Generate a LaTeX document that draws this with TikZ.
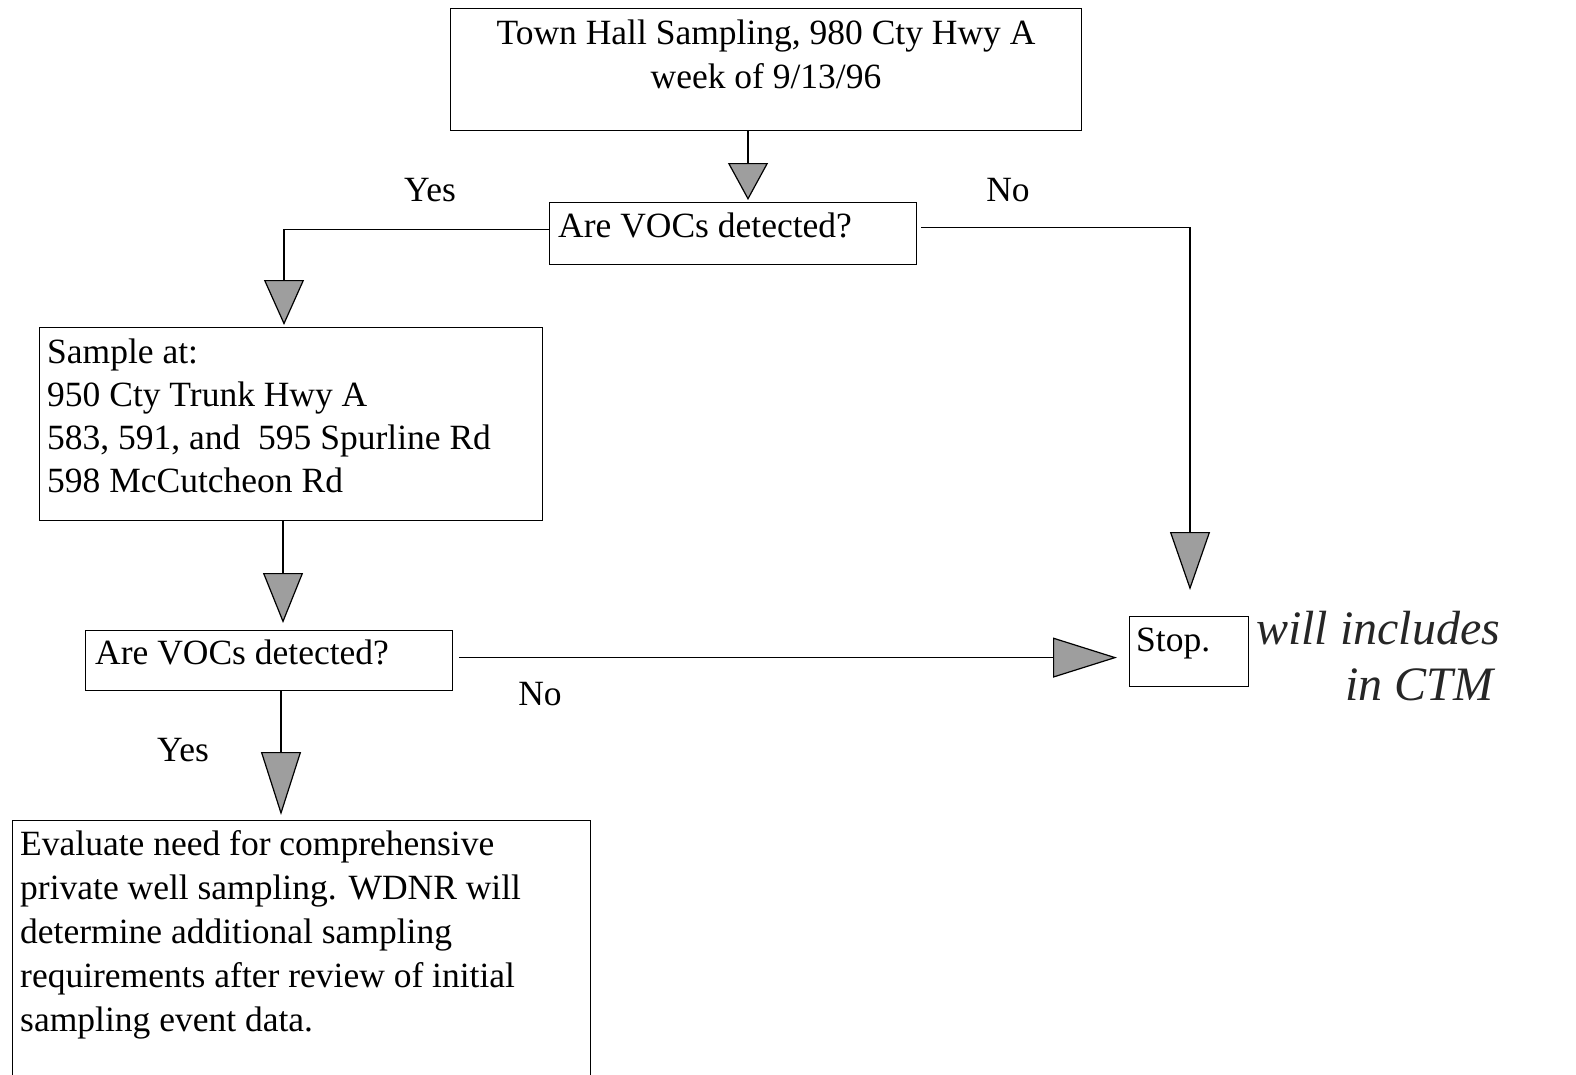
\documentclass[tikz,border=0pt]{standalone}
\usepackage{fontspec}
\setmainfont{Liberation Serif}
\usetikzlibrary{arrows.meta}
\definecolor{tipgray}{gray}{0.62}
\tikzset{
  box/.style={draw, line width=1.2pt, inner sep=0pt, anchor=north west},
  txt/.style={font=\fontsize{35.5}{44}\selectfont, inner sep=0pt},
  lbl/.style={font=\fontsize{35.5}{44}\selectfont, inner sep=0pt, anchor=base},
  hand/.style={font=\fontsize{48}{56}\selectfont\itshape, inner sep=0pt, anchor=base west, text=black!85},
  arr/.style={line width=1.2pt, -{Triangle[width=40pt,length=#1,fill=tipgray]}}
}
\begin{document}
\begin{tikzpicture}[x=1pt,y=-1pt]
\clip (0,0) rectangle (1576,1074);
% boxes
\node[box, minimum width=631pt, minimum height=122pt] (top) at (450,8) {};
\node[box, minimum width=367pt, minimum height=62pt] (d1) at (549,202) {};
\node[box, minimum width=503pt, minimum height=193pt] (sample) at (39,327) {};
\node[box, minimum width=367pt, minimum height=60pt] (d2) at (85,630) {};
\node[box, minimum width=119pt, minimum height=70pt] (stop) at (1129,616) {};
\node[box, minimum width=578pt, minimum height=280pt] (eval) at (12,820) {};
% texts (base anchor = last line of a multi-line node)
\node[txt, anchor=base, align=center] (toptext) at (766,88.5) {Town Hall Sampling, 980 Cty Hwy A\\week of 9/13/96};
\node[txt, anchor=base west] (d1text) at (558,237.5) {Are VOCs detected?};
\node[txt, anchor=base west, align=left, font=\fontsize{35.5}{43}\selectfont] (sampletext) at (47,492.5) {Sample at:\\950 Cty Trunk Hwy A\\583, 591, and\ \ 595 Spurline Rd\\598 McCutcheon Rd};
\node[txt, anchor=base west] (d2text) at (95,664.5) {Are VOCs detected?};
\node[txt, anchor=base west] (stoptext) at (1136,651) {Stop.};
\node[txt, anchor=base west, align=left] (evaltext) at (20,1031.5) {Evaluate need for comprehensive\\private well sampling. WDNR will\\determine additional sampling\\requirements after review of initial\\sampling event data.};
% labels
\node[lbl] (yes1) at (430,201.5) {Yes};
\node[lbl] (no1) at (1008,201.5) {No};
\node[lbl] (no2) at (540,705.5) {No};
\node[lbl] (yes2) at (183,761.5) {Yes};
% handwritten note
\node[hand] (note1) at (1256,644) {will includes};
\node[hand] (note2) at (1345,700) {in CTM};
% connector x positions
\coordinate (cx1) at (748,0);
\coordinate (cx2) at (284,0);
\coordinate (cx3) at (1190,0);
\coordinate (cx4) at (283,0);
\coordinate (cx5) at (281,0);
% connectors
\draw[arr=37pt, shorten >=2pt] (top.south -| cx1) -- (d1.north -| cx1);
\draw[arr=45pt, shorten >=2pt] ([yshift=4pt]d1.west) -| (sample.north -| cx2);
\draw[arr=58pt, shorten >=26pt, shorten <=4pt] ([yshift=6pt]d1.east) -| (stop.north -| cx3);
\draw[arr=50pt, shorten >=7pt] (sample.south -| cx4) -- (d2.north -| cx4);
\draw[arr=64pt, shorten >=12pt, shorten <=6pt] ([yshift=3pt]d2.east) -- ([yshift=3pt]d2.east -| stop.west);
\draw[arr=63pt, shorten >=5pt] (d2.south -| cx5) -- (eval.north -| cx5);
\end{tikzpicture}
\end{document}
